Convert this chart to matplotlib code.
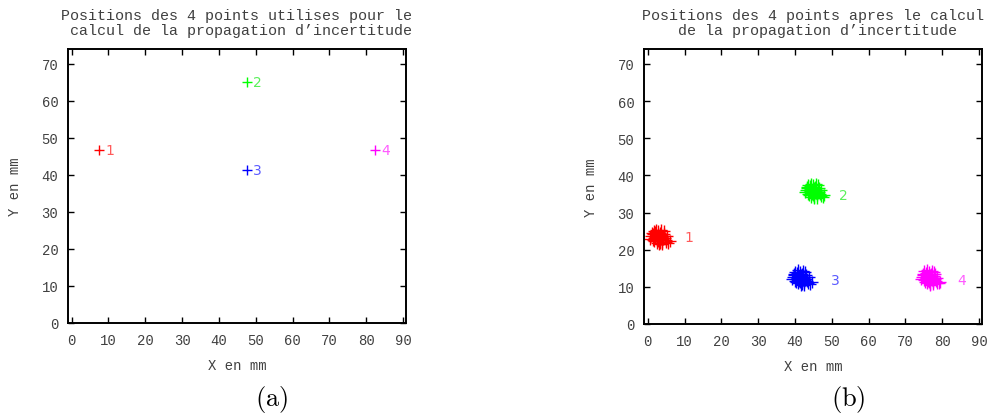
import matplotlib.pyplot as plt

plt.rcParams['mathtext.fontset'] = 'cm'

mono = 'Liberation Mono'
grey = '#404040'

# (a) points initiaux
pts_x = [7.5, 47.5, 47.5, 82.4]
pts_y = [46.6, 65.0, 41.2, 46.6]
noms = ['1', '2', '3', '4']
couleurs = ['#ff0000', '#00ff00', '#0000ff', '#ff00ff']
couleurs_txt = ['#ff5a5a', '#5af05a', '#5a5aff', '#ff5aff']

# (b) nuages de points apres propagation
x1 = [3.0, 2.2, 3.7, 2.5, 3.4, 4.2, 1.7, 2.8, 4.0, 2.0, 3.3, 1.3, 4.6, 3.1, 3.6, 1.8, 2.6, 4.5, 0.9, 3.5,
      2.3, 4.9, 2.7, 3.9, 1.2, 6.0, 3.8, 2.4, 5.2, 0.7, 4.3, 1.5, 5.0, 2.1, 3.2, 4.1, 2.9, 5.6, 1.6, 3.4]
y1 = [23.4, 24.0, 22.9, 22.5, 24.4, 23.7, 23.2, 25.0, 22.2, 24.7, 21.8, 24.1, 23.1, 21.4, 25.3, 22.3, 23.7, 24.3, 23.6, 23.8,
      25.4, 22.6, 22.9, 21.6, 24.5, 22.4, 23.5, 21.9, 23.6, 23.0, 24.9, 22.7, 22.0, 23.4, 24.2, 22.8, 22.3, 21.8, 25.1, 23.1]
x2 = [45.0, 44.2, 45.7, 44.5, 45.4, 46.2, 43.7, 44.8, 46.0, 44.0, 45.3, 43.3, 46.6, 45.1, 45.6, 43.8, 44.6, 46.5, 42.9, 45.5,
      44.3, 46.9, 44.7, 45.9, 43.2, 48.0, 45.8, 44.4, 47.2, 42.7, 46.3, 43.5, 47.0, 44.1, 45.2, 46.1, 44.9, 47.6, 43.6, 45.4]
y2 = [35.8, 36.4, 35.3, 34.9, 36.8, 36.1, 35.6, 37.4, 34.6, 37.1, 34.2, 36.5, 35.5, 33.8, 37.7, 34.7, 36.1, 36.7, 36.0, 36.2,
      37.8, 35.0, 35.3, 34.0, 36.9, 34.8, 35.9, 34.3, 36.0, 35.4, 37.3, 35.1, 34.4, 35.8, 36.6, 35.2, 34.7, 34.2, 37.5, 35.5]
x3 = [41.5, 40.7, 42.2, 41.0, 41.9, 42.7, 40.2, 41.3, 42.5, 40.5, 41.8, 39.8, 43.1, 41.6, 42.1, 40.3, 41.1, 43.0, 39.4, 42.0,
      40.8, 43.4, 41.2, 42.4, 39.7, 44.5, 42.3, 40.9, 43.7, 39.2, 42.8, 40.0, 43.5, 40.6, 41.7, 42.6, 41.4, 44.1, 40.1, 41.9]
y3 = [12.4, 13.0, 11.9, 11.5, 13.4, 12.7, 12.2, 14.0, 11.2, 13.7, 10.8, 13.1, 12.1, 10.4, 14.3, 11.3, 12.7, 13.3, 12.6, 12.8,
      14.4, 11.6, 11.9, 10.6, 13.5, 11.4, 12.5, 10.9, 12.6, 12.0, 13.9, 11.7, 11.0, 12.4, 13.2, 11.8, 11.3, 10.8, 14.1, 12.1]
x4 = [76.5, 75.7, 77.2, 76.0, 76.9, 77.7, 75.2, 76.3, 77.5, 75.5, 76.8, 74.8, 78.1, 76.6, 77.1, 75.3, 76.1, 78.0, 74.4, 77.0,
      75.8, 78.4, 76.2, 77.4, 74.7, 79.5, 77.3, 75.9, 78.7, 74.2, 77.8, 75.0, 78.5, 75.6, 76.7, 77.6, 76.4, 79.1, 75.1, 76.9]
y4 = [12.5, 13.1, 11.9, 11.6, 13.4, 12.8, 12.2, 14.1, 11.2, 13.8, 10.8, 13.2, 12.0, 10.5, 14.3, 11.4, 12.7, 13.4, 12.6, 12.9,
      14.5, 11.6, 12.0, 10.7, 13.5, 11.3, 12.6, 10.9, 12.5, 12.1, 13.9, 11.8, 11.1, 12.4, 13.3, 11.8, 11.4, 10.9, 14.2, 12.2]
nuages_x = [x1, x2, x3, x4]
nuages_y = [y1, y2, y3, y4]
lab_b_x = [9.9, 52.0, 49.8, 84.0]
lab_b_y = [23.3, 34.7, 11.8, 11.8]

titre_a = "Positions des 4 points utilises pour le\n calcul de la propagation d\u2019incertitude"
titre_b = "Positions des 4 points apres le calcul\n de la propagation d\u2019incertitude"


def style_axes(ax, titre):
    ax.set_xlim(-1, 90.8)
    ax.set_ylim(0, 74)
    ax.set_xticks(range(0, 100, 10))
    ax.set_yticks(range(0, 80, 10))
    ax.tick_params(direction='in', top=True, right=True, length=4, width=1,
                   labelsize=10, labelcolor=grey, pad=7)
    for lab in ax.get_xticklabels() + ax.get_yticklabels():
        lab.set_family(mono)
    for s in ax.spines.values():
        s.set_linewidth(1.4)
    ax.set_xlabel('X en mm', family=mono, fontsize=10, color=grey, labelpad=8)
    ax.set_ylabel('Y en mm', family=mono, fontsize=10, color=grey, labelpad=14)
    ax.set_title(titre, family=mono, fontsize=10.8, color=grey, pad=11,
                 linespacing=1.05)


fig = plt.figure(figsize=(9.91, 4.14), dpi=100)
ax1 = fig.add_axes([0.0686, 0.2174, 0.341, 0.662])
ax2 = fig.add_axes([0.6499, 0.2150, 0.341, 0.664])

for i in range(4):
    ax1.plot(pts_x[i], pts_y[i], '+', color=couleurs[i], ms=7, mew=1)
    ax1.text(pts_x[i] + 1.8, pts_y[i], noms[i], color=couleurs_txt[i],
             family='DejaVu Sans', fontsize=10, va='center')
style_axes(ax1, titre_a)

for i in range(4):
    ax2.plot(nuages_x[i], nuages_y[i], '+', color=couleurs[i], ms=8, mew=1)
    ax2.text(lab_b_x[i], lab_b_y[i], noms[i], color=couleurs_txt[i],
             family='DejaVu Sans', fontsize=10, va='center')
style_axes(ax2, titre_b)

fig.text(0.274, 0.02, r'$\mathrm{(a)}$', fontsize=19, ha='center')
fig.text(0.856, 0.02, r'$\mathrm{(b)}$', fontsize=19, ha='center')

fig.savefig('out.png', dpi=100)
